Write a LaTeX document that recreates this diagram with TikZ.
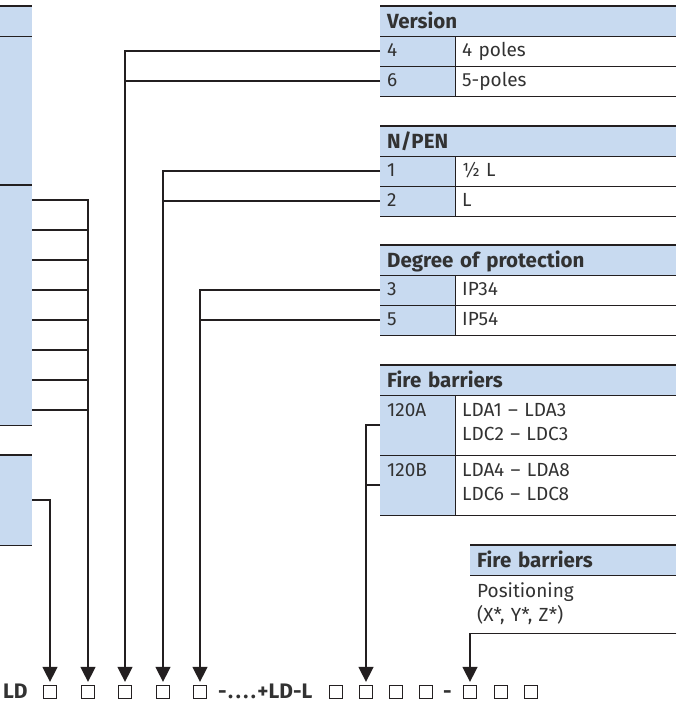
\documentclass[tikz,border=0pt]{standalone}
\usepackage{fontspec}
\setmainfont{Fira Sans}
\usetikzlibrary{arrows.meta, positioning, calc}
\definecolor{tabblue}{RGB}{200,218,240}
\definecolor{rulegray}{RGB}{35,31,32}
\definecolor{textgray}{RGB}{50,50,50}

\begin{document}
\begin{tikzpicture}[
  x=1pt, y=-1pt,
  every node/.style={font=\fontsize{19}{24}\selectfont, text=textgray},
  rule/.style={draw=rulegray, line width=1.5pt},
  conn/.style={draw=rulegray, line width=1.5pt},
  arr/.style={conn, -{Triangle[width=15pt,length=15pt]}, shorten >=3pt},
  cell/.style={anchor=north west, inner xsep=7pt, inner ysep=0pt, align=left,
               minimum height=30pt, text height=15pt, text depth=4pt},
  keycell/.style={cell, fill=tabblue, text width=61pt},
  valcell/.style={cell, text width=207pt},
  headcell/.style={cell, fill=tabblue, font=\fontsize{20.5}{24}\selectfont\bfseries, text width=282pt,
                   text height=16.5pt, text depth=2.5pt},
  twolines/.style={minimum height=60pt, text depth=33pt},
  stub/.style={anchor=north west, fill=tabblue, minimum width=32pt, minimum height=30pt, inner sep=0pt},
  sqbox/.style={draw=rulegray, line width=1.3pt, minimum size=13pt, inner sep=0pt},
  code/.style={font=\fontsize{21}{24}\selectfont\bfseries, inner sep=0pt, anchor=base west}
]
  \useasboundingbox (0,0) rectangle (681,704);

  % cut-off table on the left
  \node[stub] (lhead) at (0,6) {};
  \node[stub, minimum height=149pt] (lbody) at (0,36) {};
  \foreach \i in {1,...,8}{
    \node[stub] (la\i) at (0,{185+30*(\i-1)}) {};
    \draw[rule] (la\i.south west) -- (la\i.south east);
  }
  \foreach \i in {1,2,3}{
    \node[stub] (lb\i) at (0,{455+30*(\i-1)}) {};
    \draw[rule] (lb\i.south west) -- (lb\i.south east);
  }
  \draw[rule] (lhead.north west) -- (lhead.north east);
  \draw[rule] (lhead.south west) -- (lhead.south east);
  \draw[rule] (la1.north west) -- (la1.north east);
  \draw[rule] (lb1.north west) -- (lb1.north east);

  % Version
  \node[headcell] (verh) at (380,6) {Version};
  \node[keycell] (ver4) at (380,36) {4};
  \node[valcell] (ver4v) at (455,36) {4 poles};
  \node[keycell] (ver6) at (380,66) {6};
  \node[valcell] (ver6v) at (455,66) {5-poles};
  \draw[rule] (verh.north west) -- (verh.north east);
  \draw[rule] (verh.south west) -- (verh.south east);
  \draw[rule] (ver4.south west) -- (ver4v.south east);
  \draw[rule] (ver6.south west) -- (ver6v.south east);
  \draw[rule] (ver4.north east) -- (ver6.south east);

  % N/PEN
  \node[headcell] (penh) at (380,126) {N/PEN};
  \node[keycell] (pen1) at (380,156) {1};
  \node[valcell] (pen1v) at (455,156) {½ L};
  \node[keycell] (pen2) at (380,186) {2};
  \node[valcell] (pen2v) at (455,186) {L};
  \draw[rule] (penh.north west) -- (penh.north east);
  \draw[rule] (penh.south west) -- (penh.south east);
  \draw[rule] (pen1.south west) -- (pen1v.south east);
  \draw[rule] (pen2.south west) -- (pen2v.south east);
  \draw[rule] (pen1.north east) -- (pen2.south east);

  % Degree of protection
  \node[headcell] (iph) at (380,245) {Degree of protection};
  \node[keycell] (ip3) at (380,275) {3};
  \node[valcell] (ip3v) at (455,275) {IP34};
  \node[keycell] (ip5) at (380,305) {5};
  \node[valcell] (ip5v) at (455,305) {IP54};
  \draw[rule] (iph.north west) -- (iph.north east);
  \draw[rule] (iph.south west) -- (iph.south east);
  \draw[rule] (ip3.south west) -- (ip3v.south east);
  \draw[rule] (ip5.south west) -- (ip5v.south east);
  \draw[rule] (ip3.north east) -- (ip5.south east);

  % Fire barriers
  \node[headcell] (fbh) at (380,365) {Fire barriers};
  \node[keycell, twolines] (fbA) at (380,395) {120A};
  \node[valcell, twolines] (fbAv) at (455,395) {LDA1 – LDA3\\LDC2 – LDC3};
  \node[keycell, twolines] (fbB) at (380,455) {120B};
  \node[valcell, twolines] (fbBv) at (455,455) {LDA4 – LDA8\\LDC6 – LDC8};
  \draw[rule] (fbh.north west) -- (fbh.north east);
  \draw[rule] (fbh.south west) -- (fbh.south east);
  \draw[rule] (fbA.south west) -- (fbAv.south east);
  \draw[rule] (fbB.south west) -- (fbBv.south east);
  \draw[rule] (fbA.north east) -- (fbB.south east);

  % Fire barriers, positioning
  \node[headcell, text width=192pt] (posh) at (470,545) {Fire barriers};
  \node[cell, text width=192pt, minimum height=58pt, text height=17pt, text depth=30pt] (pos) at (470,575) {Positioning\\(X*, Y*, Z*)};
  \draw[rule] (posh.north west) -- (posh.north east);
  \draw[rule] (posh.south west) -- (posh.south east);

  % type code
  \node[code] (ld) at (3,698) {LD};
  \foreach \n/\x in {s1/50, s2/88, s3/125, s4/163, s5/200, t1/336, t2/366, t3/396, t4/426, u1/470, u2/501, u3/531}
    \node[sqbox] (\n) at (\x,692) {};
  \node[code] (mid) at (218,698) {{\addfontfeature{LetterSpace=12}-....+}LD-L};
  \node[code] (dash) at (443,698) {-};

  % connectors
  \draw[arr] (la1.east) -| (s2.north);
  \foreach \i in {2,...,8}
    \draw[conn] (la\i.east) -- (la\i.east -| s2.north);
  \draw[arr] (lb2.east) -| (s1.north);
  \draw[arr] (ver4.west) -| (s3.north);
  \draw[conn] (ver6.west) -- (ver6.west -| s3.north);
  \draw[arr] (pen1.west) -| (s4.north);
  \draw[conn] (pen2.west) -- (pen2.west -| s4.north);
  \draw[arr] (ip3.west) -| (s5.north);
  \draw[conn] (ip5.west) -- (ip5.west -| s5.north);
  \draw[arr] (fbA.west) -| (t2.north);
  \draw[conn] (fbB.west) -- (fbB.west -| t2.north);
  \draw[arr] (pos.south east) -| (u1.north);
\end{tikzpicture}
\end{document}
